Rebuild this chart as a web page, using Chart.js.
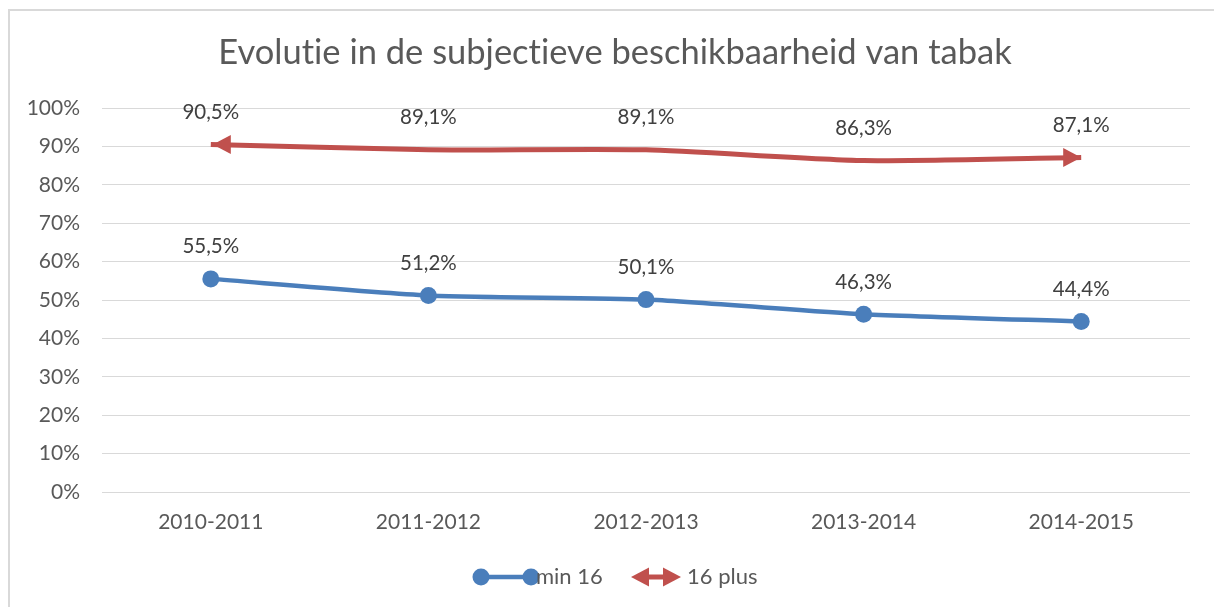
<!DOCTYPE html>
<html>
<head>
<meta charset="utf-8">
<script src="https://cdn.jsdelivr.net/npm/chart.js@4"></script>
<style>
  html, body { margin: 0; padding: 0; background: #ffffff; }
  #wrap { width: 1214px; height: 607px; position: relative; }
  canvas { font-variant-ligatures: none; }
</style>
</head>
<body>
<div id="wrap"><canvas id="c" width="1214" height="607"></canvas></div>
<script>
const titleText = 'Evolutie in de subjectieve beschikbaarheid van tabak';
const categories = ['2010-2011', '2011-2012', '2012-2013', '2013-2014', '2014-2015'];
const min16 = [55.5, 51.2, 50.1, 46.3, 44.4];
const plus16 = [90.5, 89.1, 89.1, 86.3, 87.1];
const seriesNames = ['min 16', '16 plus'];
const yTicks = [0, 10, 20, 30, 40, 50, 60, 70, 80, 90, 100];

const BLUE = '#4a7ebb';
const RED = '#c0504d';
const FONT = 'Lato, "Open Sans", sans-serif';

function fmt(v) { return v.toFixed(1).replace('.', ',') + '%'; }

function noLig(ctx) {
  try { ctx.textRendering = 'optimizeSpeed'; } catch (e) {}
}

function arrowHead(ctx, tipX, tipY, dir, color) {
  const len = 18, half = 9.5;
  ctx.save();
  ctx.fillStyle = color;
  ctx.beginPath();
  ctx.moveTo(tipX, tipY);
  ctx.lineTo(tipX - dir * len, tipY - half);
  ctx.lineTo(tipX - dir * len, tipY + half);
  ctx.closePath();
  ctx.fill();
  ctx.restore();
}

const decoPlugin = {
  id: 'deco',
  beforeDraw(chart) {
    const ctx = chart.ctx;
    ctx.save();
    ctx.fillStyle = '#ffffff';
    ctx.fillRect(0, 0, chart.width, chart.height);
    ctx.fillStyle = '#d9d9d9';
    ctx.fillRect(8, 9, chart.width - 8, 2);
    ctx.fillRect(8, 9, 2, chart.height - 9);
    // title
    noLig(ctx);
    ctx.fillStyle = '#595959';
    ctx.font = '34.5px ' + FONT;
    ctx.textAlign = 'center';
    ctx.textBaseline = 'middle';
    ctx.fillText(titleText, 615, 53);
    ctx.restore();
  },
  afterDatasetsDraw(chart) {
    const ctx = chart.ctx;
    const meta1 = chart.getDatasetMeta(1);
    const pts = meta1.data;
    if (pts.length) {
      arrowHead(ctx, pts[0].x + 2, pts[0].y, -1, RED);
      arrowHead(ctx, pts[pts.length - 1].x, pts[pts.length - 1].y, 1, RED);
    }
    // data labels
    ctx.save();
    noLig(ctx);
    ctx.font = '20.5px ' + FONT;
    ctx.fillStyle = '#404040';
    ctx.textAlign = 'center';
    ctx.textBaseline = 'middle';
    chart.data.datasets.forEach((ds, i) => {
      const meta = chart.getDatasetMeta(i);
      meta.data.forEach((el, j) => {
        ctx.fillText(fmt(ds.data[j]), el.x, el.y - 32);
      });
    });
    ctx.restore();
    // legend
    ctx.save();
    noLig(ctx);
    const ly = 577;
    ctx.font = '22px ' + FONT;
    ctx.textAlign = 'left';
    ctx.textBaseline = 'middle';
    ctx.strokeStyle = BLUE;
    ctx.lineWidth = 4.5;
    ctx.beginPath();
    ctx.moveTo(481, ly);
    ctx.lineTo(531, ly);
    ctx.stroke();
    ctx.fillStyle = BLUE;
    [481, 531].forEach(x => {
      ctx.beginPath();
      ctx.arc(x, ly, 8.5, 0, Math.PI * 2);
      ctx.fill();
    });
    ctx.fillStyle = '#595959';
    ctx.fillText(chart.data.datasets[0].label, 536, ly);
    ctx.strokeStyle = RED;
    ctx.lineWidth = 5;
    ctx.beginPath();
    ctx.moveTo(640, ly);
    ctx.lineTo(672, ly);
    ctx.stroke();
    arrowHead(ctx, 631, ly, -1, RED);
    arrowHead(ctx, 681, ly, 1, RED);
    ctx.fillStyle = '#595959';
    ctx.fillText(chart.data.datasets[1].label, 687, ly);
    ctx.restore();
  }
};

new Chart(document.getElementById('c'), {
  type: 'line',
  data: {
    labels: categories,
    datasets: [
      {
        label: seriesNames[0],
        data: min16,
        borderColor: BLUE,
        backgroundColor: BLUE,
        borderWidth: 4.5,
        pointRadius: 8.5,
        pointHoverRadius: 8.5,
        pointBorderWidth: 0,
        pointBackgroundColor: BLUE,
        tension: 0.2,
        fill: false
      },
      {
        label: seriesNames[1],
        data: plus16,
        borderColor: RED,
        backgroundColor: RED,
        borderWidth: 5,
        pointRadius: 0,
        pointHoverRadius: 0,
        tension: 0.2,
        fill: false
      }
    ]
  },
  options: {
    responsive: false,
    animation: false,
    devicePixelRatio: 1,
    layout: { padding: { left: 0, right: 24, top: 108, bottom: 0 } },
    plugins: {
      legend: { display: false },
      title: { display: false },
      tooltip: { enabled: false }
    },
    scales: {
      x: {
        offset: true,
        grid: { display: false, drawTicks: false },
        border: { display: false },
        ticks: {
          color: '#595959',
          font: { family: FONT, size: 21 },
          padding: 18,
          maxRotation: 0
        },
        afterFit(scale) { scale.height = 115; }
      },
      y: {
        min: 0,
        max: 100,
        afterBuildTicks(scale) { scale.ticks = yTicks.map(v => ({ value: v })); },
        grid: { color: '#d9d9d9', lineWidth: 1, drawTicks: false },
        border: { display: false },
        ticks: {
          color: '#595959',
          font: { family: FONT, size: 21 },
          padding: 22,
          callback: v => v + '%'
        },
        afterFit(scale) { scale.width = 102; }
      }
    }
  },
  plugins: [decoPlugin]
});
</script>
</body>
</html>
